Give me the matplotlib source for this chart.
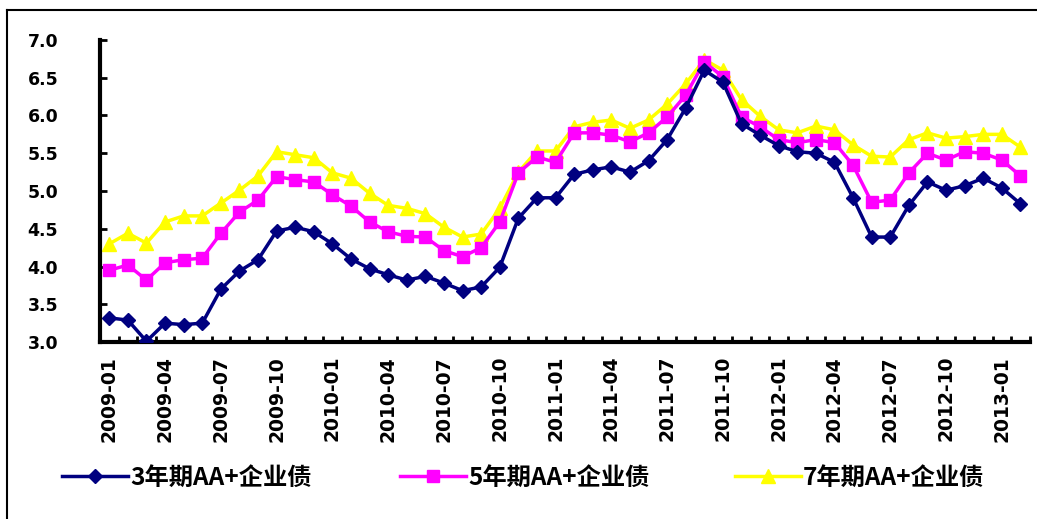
import matplotlib.pyplot as plt
import matplotlib.lines as mlines

plt.rcParams['font.family'] = ['Noto Sans CJK SC', 'DejaVu Sans']

# monthly yields, 2009-01 .. 2013-02
months = ['2009-01', '2009-02', '2009-03', '2009-04', '2009-05', '2009-06',
          '2009-07', '2009-08', '2009-09', '2009-10', '2009-11', '2009-12',
          '2010-01', '2010-02', '2010-03', '2010-04', '2010-05', '2010-06',
          '2010-07', '2010-08', '2010-09', '2010-10', '2010-11', '2010-12',
          '2011-01', '2011-02', '2011-03', '2011-04', '2011-05', '2011-06',
          '2011-07', '2011-08', '2011-09', '2011-10', '2011-11', '2011-12',
          '2012-01', '2012-02', '2012-03', '2012-04', '2012-05', '2012-06',
          '2012-07', '2012-08', '2012-09', '2012-10', '2012-11', '2012-12',
          '2013-01', '2013-02']

aa3 = [3.32, 3.29, 3.01, 3.25, 3.23, 3.25, 3.70, 3.94, 4.09, 4.47,
       4.52, 4.46, 4.30, 4.10, 3.97, 3.89, 3.82, 3.87, 3.78, 3.68,
       3.73, 3.99, 4.64, 4.91, 4.91, 5.22, 5.28, 5.32, 5.25, 5.40,
       5.68, 6.10, 6.60, 6.44, 5.89, 5.74, 5.60, 5.52, 5.50, 5.38,
       4.91, 4.39, 4.39, 4.81, 5.12, 5.01, 5.07, 5.17, 5.04, 4.83]

aa5 = [3.95, 4.02, 3.82, 4.05, 4.09, 4.11, 4.44, 4.72, 4.88, 5.19,
       5.15, 5.12, 4.95, 4.80, 4.59, 4.46, 4.40, 4.39, 4.21, 4.13,
       4.25, 4.59, 5.24, 5.45, 5.38, 5.77, 5.77, 5.74, 5.65, 5.77,
       5.98, 6.27, 6.71, 6.51, 5.98, 5.85, 5.68, 5.64, 5.68, 5.64,
       5.34, 4.85, 4.88, 5.24, 5.50, 5.41, 5.52, 5.50, 5.41, 5.20]

aa7 = [4.30, 4.44, 4.31, 4.59, 4.67, 4.67, 4.84, 5.01, 5.20, 5.52,
       5.48, 5.44, 5.24, 5.17, 4.97, 4.81, 4.77, 4.70, 4.52, 4.39,
       4.43, 4.77, 5.25, 5.53, 5.53, 5.85, 5.91, 5.94, 5.83, 5.94,
       6.15, 6.42, 6.74, 6.60, 6.21, 5.99, 5.81, 5.77, 5.86, 5.81,
       5.61, 5.46, 5.45, 5.68, 5.77, 5.70, 5.72, 5.75, 5.75, 5.58]

names = ['3年期AA+企业债', '5年期AA+企业债', '7年期AA+企业债']

fig = plt.figure(figsize=(10.37, 5.19), dpi=100)
ax = fig.add_axes([0.0964, 0.341, 0.8966, 0.582])

x = list(range(len(months)))
ax.plot(x, aa7, color='#FFFF00', lw=2.5, marker='^', ms=10, zorder=2)
ax.plot(x, aa5, color='#FF00FF', lw=2.5, marker='s', ms=9, zorder=3)
ax.plot(x, aa3, color='#000080', lw=2.5, marker='D', ms=7, zorder=4)

ax.set_xlim(-0.5, len(months) - 0.5)
ax.set_ylim(3.0, 7.0)
ax.set_yticks([3.0, 3.5, 4.0, 4.5, 5.0, 5.5, 6.0, 6.5, 7.0])
ax.set_yticklabels(['%.1f' % v for v in ax.get_yticks()],
                   fontweight='bold', fontsize=12.5, family='DejaVu Sans')
ax.tick_params(axis='y', direction='in', length=5, width=2, pad=30)

ax.set_xticks(x[::3])
ax.set_xticklabels(months[::3], rotation=90, fontweight='bold',
                   fontsize=13.5, family='DejaVu Sans')
ax.set_xticks([i + 0.5 for i in x], minor=True)
ax.tick_params(axis='x', which='major', length=0, pad=10)
ax.tick_params(axis='x', which='minor', direction='in', length=4, width=2)

for s in ['top', 'right']:
    ax.spines[s].set_visible(False)
for s in ['left', 'bottom']:
    ax.spines[s].set_linewidth(3)

# frame around the chart area
fig.add_artist(mlines.Line2D([7 / 1037, 7 / 1037], [0, 1 - 10 / 519],
                             color='black', lw=1.5))
fig.add_artist(mlines.Line2D([7 / 1037, 1], [1 - 10 / 519, 1 - 10 / 519],
                             color='black', lw=1.5))

handles = [
    mlines.Line2D([], [], color='#000080', lw=2.5, marker='D', ms=7),
    mlines.Line2D([], [], color='#FF00FF', lw=2.5, marker='s', ms=9),
    mlines.Line2D([], [], color='#FFFF00', lw=2.5, marker='^', ms=10),
]
# one legend box per series, spaced along the bottom
for h, name, x0 in zip(handles, names, [40, 378, 713]):
    fig.legend([h], [name], loc='center left',
               bbox_to_anchor=(x0 / 1037, 1 - 478 / 519), frameon=False,
               handlelength=2.7, handletextpad=0.1,
               prop={'family': ['Noto Sans CJK SC', 'DejaVu Sans'],
                     'weight': 'bold', 'size': 17.5})

fig.savefig('out.png', dpi=100)
